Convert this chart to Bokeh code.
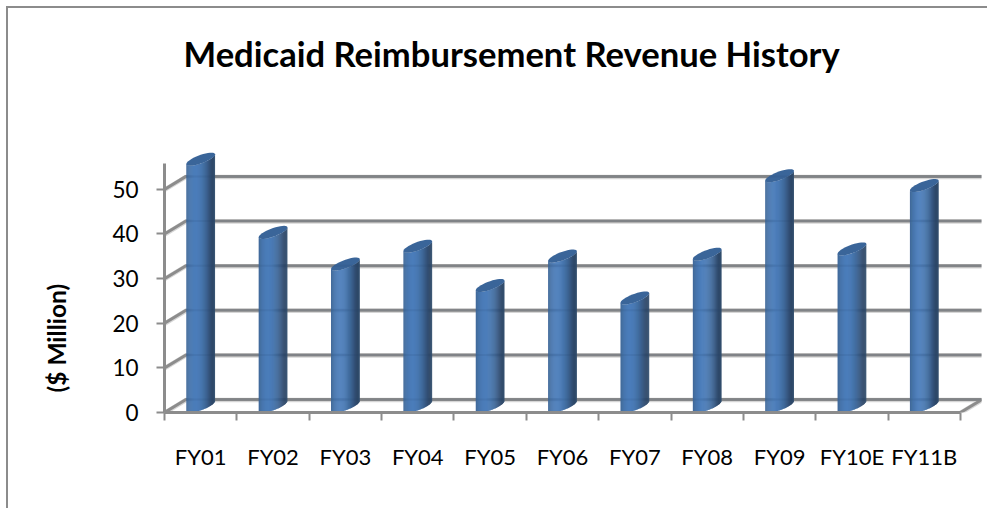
from math import pi, cos, sin
from bokeh.plotting import figure
from bokeh.models import FixedTicker, Title, Range1d
from bokeh.embed import file_html
from bokeh.resources import INLINE

categories = ["FY01", "FY02", "FY03", "FY04", "FY05", "FY06", "FY07", "FY08", "FY09", "FY10E", "FY11B"]
revenue = [55.3, 38.9, 31.8, 35.8, 27.0, 33.6, 24.2, 34.0, 51.6, 35.2, 49.4]
y_ticks = [0, 10, 20, 30, 40, 50]
title_text = "Medicaid Reimbursement Revenue History"
y_title = "($ Million)"

PX_X = 72.45   # pixels per category
PX_Y = 4.48    # pixels per million
DEPTH_X = 21.5 / PX_X
DEPTH_Y = 13.0 / PX_Y
GRID = "#8c8c8c"
HALO = "#d6d6d6"
FONT = "Lato"

p = figure(width=987, height=508, output_backend="svg", toolbar_location=None,
           x_range=Range1d(0, 818 / PX_X), y_range=Range1d(0, 262 / PX_Y),
           min_border_left=163, min_border_right=6, min_border_top=150, min_border_bottom=96,
           outline_line_color=None, border_fill_color=None, background_fill_color=None)
p.grid.visible = False
p.styles = {"background": "linear-gradient(#8c8c8c,#8c8c8c) 6px 6px/981px 2px no-repeat,"
                          "linear-gradient(#8c8c8c,#8c8c8c) 6px 6px/2px 502px no-repeat"}

# title, kept clear of the plot by a blank panel below it
p.title.text = title_text
p.title.text_font = FONT
p.title.text_font_style = "bold"
p.title.text_font_size = "34.6px"
p.title.text_color = "#000000"
p.title.align = "left"
p.title.offset = 19
p.title.standoff = 61
p.add_layout(Title(text=" ", text_font_size="1px", standoff=44), "above")

# axes
ax = p.yaxis[0]
ax.ticker = FixedTicker(ticks=y_ticks)
ax.bounds = (0, 55.8)
ax.axis_line_color = GRID
ax.axis_line_width = 3
ax.major_tick_line_color = GRID
ax.major_tick_line_width = 2
ax.major_tick_out = 8
ax.major_tick_in = 0
ax.minor_tick_line_color = None
ax.major_label_text_font = FONT
ax.major_label_text_font_size = "22.5px"
ax.major_label_text_color = "#000000"
ax.major_label_standoff = 18

n = len(categories)
centers = [i + 0.5 for i in range(n)]
xa = p.xaxis[0]
xa.ticker = FixedTicker(ticks=centers, minor_ticks=list(range(n + 1)))
xa.major_label_overrides = {c: t for c, t in zip(centers, categories)}
xa.bounds = (0, n)
xa.axis_line_color = GRID
xa.axis_line_width = 3
xa.major_tick_line_color = None
xa.major_tick_out = 0
xa.major_tick_in = 0
xa.minor_tick_line_color = GRID
xa.minor_tick_line_width = 2
xa.minor_tick_out = 8
xa.minor_tick_in = 0
xa.major_label_text_font = FONT
xa.major_label_text_font_size = "22px"
xa.major_label_text_color = "#000000"
xa.major_label_standoff = 22

# walls: slanted left part and horizontal back part of every gridline
def walls(color, width, shift=0.0, alpha=1.0):
    s = shift / PX_Y
    xs = [[0, DEPTH_X, n + DEPTH_X] for _ in y_ticks]
    ys = [[t - s, t + DEPTH_Y - s, t + DEPTH_Y - s] for t in y_ticks]
    p.multi_line(xs, ys, line_color=color, line_width=width, line_alpha=alpha)
    p.line([n, n + DEPTH_X], [-s, DEPTH_Y - s], line_color=color, line_width=width, line_alpha=alpha)

walls(HALO, 4.5, shift=0.5)
walls(GRID, 3)

# cylinders: vertical shaded strips closed by tilted ellipses
HALF_W = 14.4
TILT = 0.34
MINOR = 4.4
SHADES = ["#41699c", "#44709f", "#4672a8", "#4775ad", "#4877b1", "#4979b4", "#4a7bb7", "#4a7cb9",
          "#4b7dba", "#4b7dba", "#4a7cb9", "#4a7bb7", "#4a7ab5", "#4878b2", "#4776ae", "#4573a9",
          "#4370a4", "#416c9f", "#3f6899", "#3c6392", "#3a5e8b", "#375983", "#34537b", "#314e73",
          "#2f4a6d", "#2e4868", "#2f4a6a", "#34506f"]
CAP = "#3a6599"
MID_Y = DEPTH_Y / 2

def front_edge(base, px):
    """Lower edge of a tilted ellipse at pixel offset px from the bar centre."""
    u = max(min(px / HALF_W, 1), -1)
    return base + TILT * px / PX_Y - MINOR * (1 - u * u) ** 0.5 / PX_Y

strip_x, strip_y, strip_c = [], [], []
cap_x, cap_y = [], []
for cx, v in zip(centers, revenue):
    m = len(SHADES)
    w = 2 * HALF_W / m
    for k, col in enumerate(SHADES):
        a = -HALF_W + k * w
        b = a + w + (0.5 if k < m - 1 else 0)
        strip_x.append([cx + a / PX_X, cx + b / PX_X, cx + b / PX_X, cx + a / PX_X])
        top = v + MID_Y
        strip_y.append([front_edge(MID_Y, a), front_edge(MID_Y, b),
                        front_edge(top, b), front_edge(top, a)])
        strip_c.append(col)
    xs, ys = [], []
    for d in range(0, 360, 10):
        t = d * pi / 180
        px = HALF_W * cos(t)
        xs.append(cx + px / PX_X)
        ys.append(v + MID_Y + (TILT * px + MINOR * sin(t)) / PX_Y)
    cap_x.append(xs)
    cap_y.append(ys)

p.patches(strip_x, strip_y, fill_color=strip_c, line_color=None)
p.patches(cap_x, cap_y, fill_color=CAP, line_color=None)

# faint gridlines showing through the cylinders
p.multi_line([[DEPTH_X, n + DEPTH_X] for _ in y_ticks],
             [[t + DEPTH_Y, t + DEPTH_Y] for t in y_ticks],
             line_color="#1f3a5f", line_width=2, line_alpha=0.10)

# axis title in a side panel of its own
p.add_layout(Title(text=y_title, text_font=FONT, text_font_style="bold", text_font_size="24.5px",
                   text_color="#000000", align="left", offset=20, standoff=78), "left")

open("out.html", "w").write(file_html(p, INLINE))
